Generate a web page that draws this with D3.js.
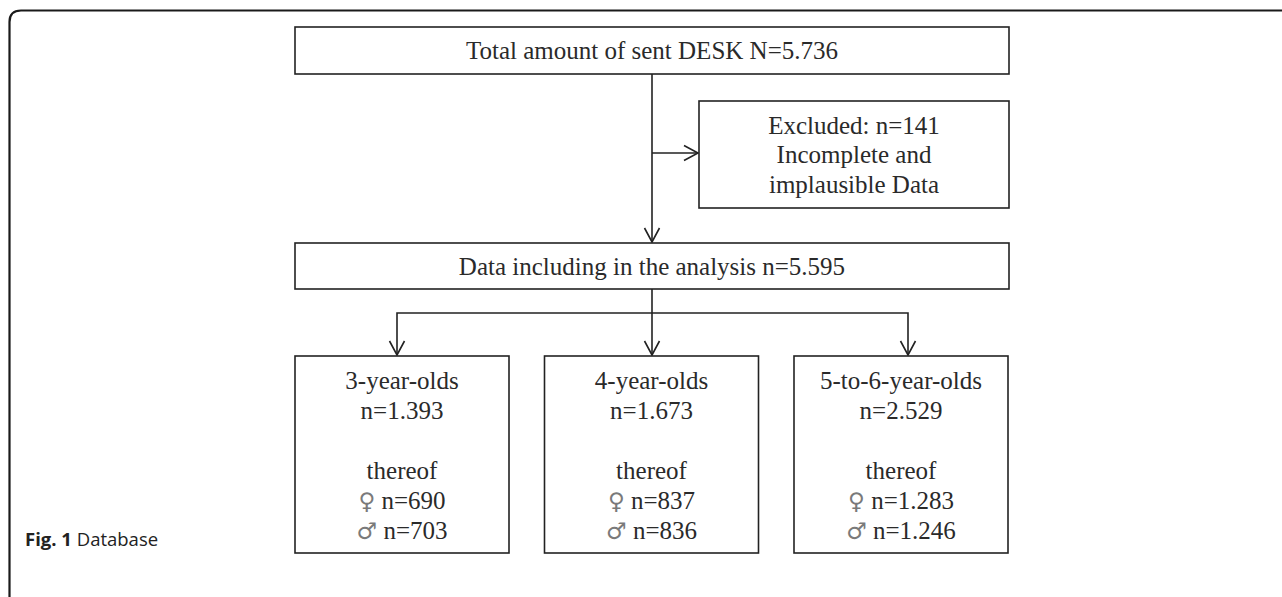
<!DOCTYPE html>
<html lang="en">
<head>
<meta charset="utf-8">
<title>Fig. 1 Database</title>
<script src="https://cdn.jsdelivr.net/npm/d3@7"></script>
<style>
  body { margin: 0; background: #fff; }
  .box { fill: #fff; stroke: #222; stroke-width: 1.6; }
  .lnk { fill: none; stroke: #222; stroke-width: 1.6; }
  .t { font-family: "Liberation Serif", "Times New Roman", serif; font-size: 25px; fill: #2a2a2a; }
  .sym { font-family: "DejaVu Sans", sans-serif; font-size: 23px; fill: #7a7a7a; }
</style>
</head>
<body>
<script>
// flowchart content
var topLabel = "Total amount of sent DESK N=5.736";
var excludedLines = ["Excluded: n=141", "Incomplete and", "implausible Data"];
var includedLabel = "Data including in the analysis n=5.595";
var groups = ["3-year-olds", "4-year-olds", "5-to-6-year-olds"];
var groupN = ["1.393", "1.673", "2.529"];
var femaleN = ["690", "837", "1.283"];
var maleN = ["703", "836", "1.246"];

var W = 1282, H = 597;
var svg = d3.select("body").append("svg")
  .attr("width", W).attr("height", H);

// outer frame (only top and left visible)
svg.append("path")
  .attr("d", "M9.5," + (H + 5) + " L9.5,22 Q9.5,10.5 21,10.5 L" + (W + 5) + ",10.5")
  .attr("fill", "none").attr("stroke", "#1a1a1a").attr("stroke-width", 2.2);

var xMain = 652;
// column scale for the three group boxes
var xCol = d3.scalePoint().domain(groups).range([402, 901]);

function box(x0, y0, x1, y1) {
  svg.append("rect").attr("class", "box")
    .attr("x", x0).attr("y", y0).attr("width", x1 - x0).attr("height", y1 - y0);
}
function arrowDown(x, y) {
  svg.append("path").attr("class", "lnk")
    .attr("d", "M" + (x - 7.5) + "," + (y - 14) + " L" + x + "," + y + " L" + (x + 7.5) + "," + (y - 14));
}
function arrowRight(x, y) {
  svg.append("path").attr("class", "lnk")
    .attr("d", "M" + (x - 14) + "," + (y - 7.5) + " L" + x + "," + y + " L" + (x - 14) + "," + (y + 7.5));
}
function line(pts) {
  svg.append("path").attr("class", "lnk").attr("d", d3.line()(pts));
}
function label(x, y, str, cls) {
  return svg.append("text").attr("class", cls || "t")
    .attr("x", x).attr("y", y).attr("dy", "0.34em")
    .attr("text-anchor", "middle").text(str);
}

// connectors
line([[xMain, 74], [xMain, 242]]);
arrowDown(xMain, 242);
line([[xMain, 153], [698, 153]]);
arrowRight(698, 153);
line([[xMain, 289], [xMain, 355]]);
var arrowX = [397, 652, 908];
line([[arrowX[0], 355], [arrowX[0], 313], [arrowX[2], 313], [arrowX[2], 355]]);
arrowX.forEach(function(x) { arrowDown(x, 355); });

// boxes
box(295, 27, 1009, 74);
label(xMain, 50, topLabel);

box(699, 101, 1009, 208);
excludedLines.forEach(function(s, i) { label(854, 125 + i * 29.5, s); });

box(295, 243, 1009, 289);
label(xMain, 266, includedLabel);

groups.forEach(function(g, i) {
  var cx = xCol(g);
  box(cx - 107, 356, cx + 107, 553);
  label(cx, 380, g);
  label(cx, 410, "n=" + groupN[i]);
  label(cx, 470, "thereof");
  var f = label(cx, 500, "");
  f.append("tspan").attr("class", "sym").text("\u2640");
  f.append("tspan").text(" n=" + femaleN[i]);
  var m = label(cx, 530, "");
  m.append("tspan").attr("class", "sym").text("\u2642");
  m.append("tspan").text(" n=" + maleN[i]);
});

// caption
var cap = svg.append("text").attr("x", 25).attr("y", 546)
  .attr("font-family", "'Open Sans', 'Noto Sans', sans-serif").attr("font-size", 18.5).attr("fill", "#222");
cap.append("tspan").attr("font-weight", "bold").text("Fig. 1");
cap.append("tspan").text(" Database");
</script>
</body>
</html>
